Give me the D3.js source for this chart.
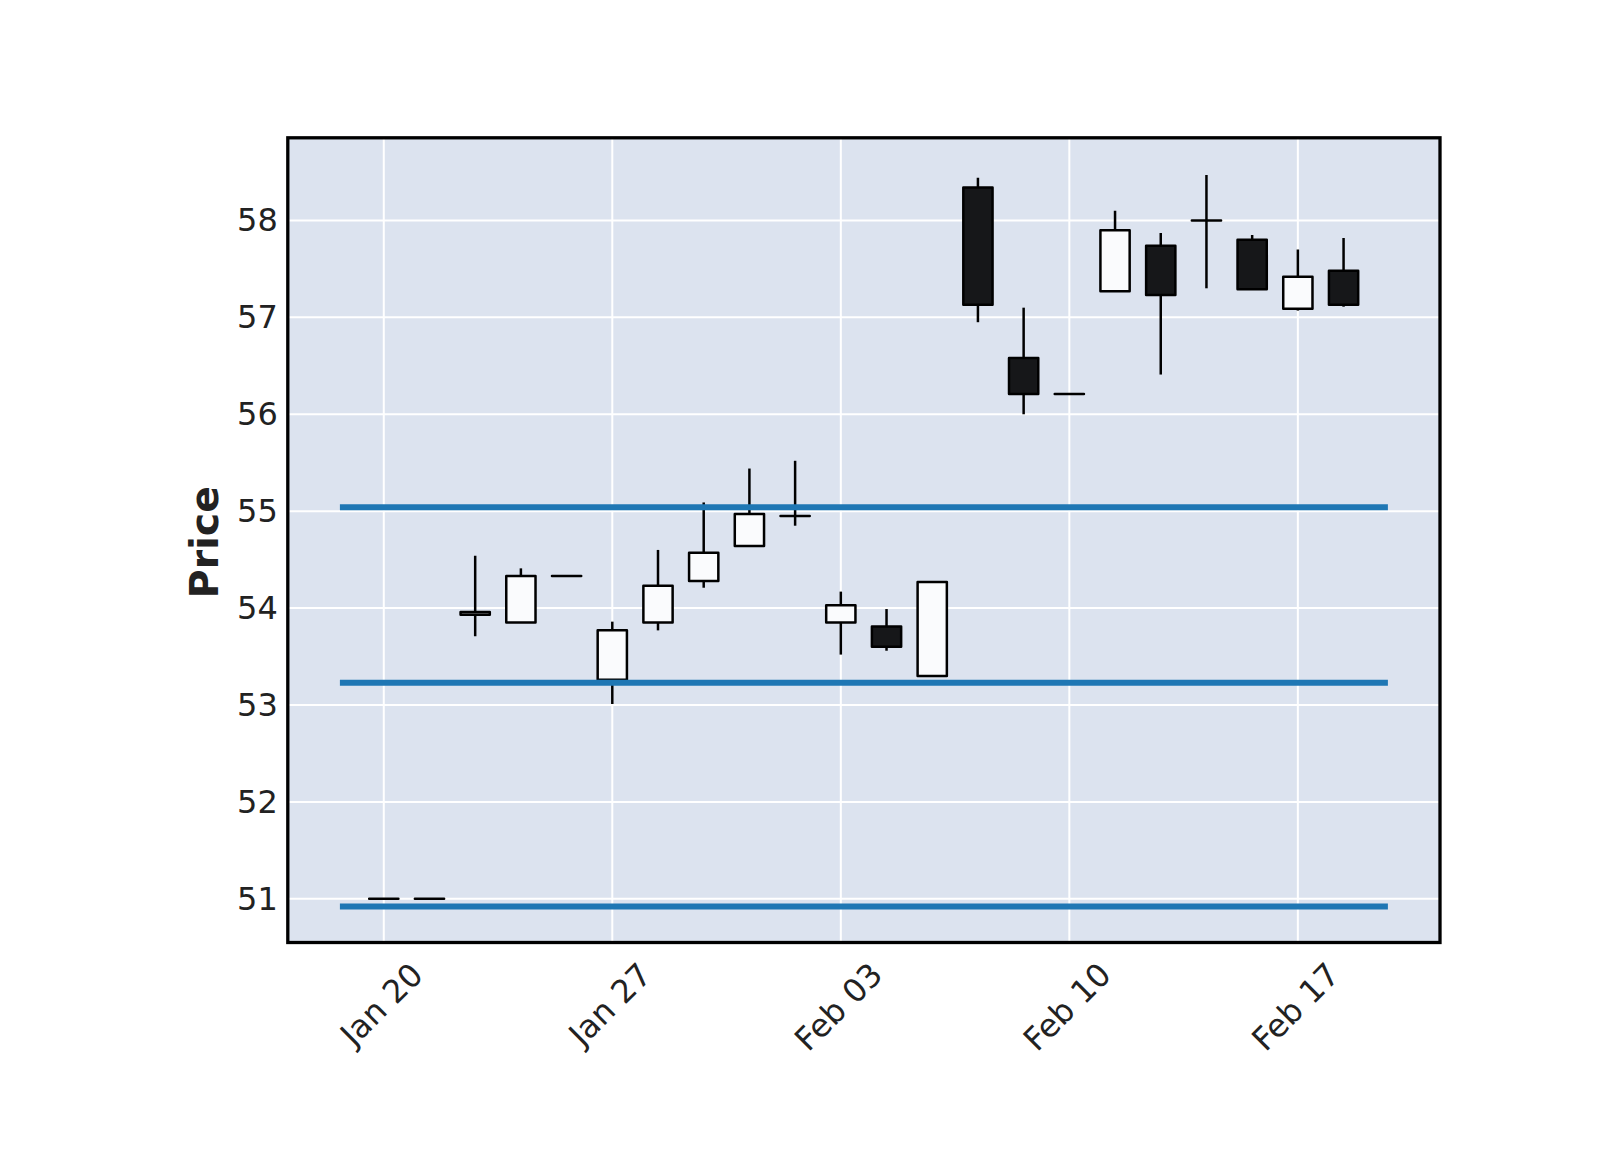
<!DOCTYPE html>
<html>
<head>
<meta charset="utf-8">
<script src="https://cdn.jsdelivr.net/npm/d3@7"></script>
<style>
  html, body { margin: 0; padding: 0; background: #ffffff; }
  svg { display: block; }
</style>
</head>
<body>
<svg id="chart" width="1600" height="1150"></svg>
<script>
// ---- data ----
const dates  = ["Jan 20","Jan 21","Jan 22","Jan 23","Jan 24","Jan 27","Jan 28","Jan 29","Jan 30","Jan 31",
                "Feb 03","Feb 04","Feb 05","Feb 06","Feb 07","Feb 10","Feb 11","Feb 12","Feb 13","Feb 14",
                "Feb 17","Feb 18"];
const opens  = [51.00, 51.00, 53.93, 53.85, 54.33, 53.26, 53.85, 54.28, 54.64, 54.95,
                53.85, 53.81, 53.30, 58.34, 56.58, 56.21, 57.27, 57.74, 58.00, 57.80,
                57.09, 57.48];
const highs  = [51.00, 51.00, 54.54, 54.41, 54.33, 53.86, 54.60, 55.09, 55.44, 55.52,
                54.17, 53.99, 54.27, 58.44, 57.10, 56.21, 58.10, 57.87, 58.47, 57.85,
                57.70, 57.82];
const lows   = [51.00, 51.00, 53.71, 53.85, 54.33, 53.01, 53.77, 54.21, 54.63, 54.85,
                53.52, 53.56, 53.30, 56.95, 56.00, 56.21, 57.27, 56.41, 57.30, 57.29,
                57.07, 57.11];
const closes = [51.00, 51.00, 53.96, 54.33, 54.33, 53.77, 54.23, 54.57, 54.97, 54.95,
                54.03, 53.60, 54.27, 57.13, 56.21, 56.21, 57.90, 57.23, 58.00, 57.29,
                57.42, 57.13];
const hlineValues = [55.04, 53.23, 50.92];
const xTickLabels = ["Jan 20", "Jan 27", "Feb 03", "Feb 10", "Feb 17"];
const yTickValues = [51, 52, 53, 54, 55, 56, 57, 58];
const yLabel = "Price";

// ---- layout ----
const plot = { left: 287.8, right: 1440, top: 137.8, bottom: 942.5 };
const xDomain = [-2.1, 23.11];
const yDomain = [50.549, 58.853];
const hlineSpan = [-0.96, 21.97];
const bodyWidth = 0.64;
const fontFamily = "'DejaVu Sans', sans-serif";
const tickFont = 32;
const lineW = 2.5;

const svg = d3.select("#chart");
const x = d3.scaleLinear().domain(xDomain).range([plot.left, plot.right]);
const y = d3.scaleLinear().domain(yDomain).range([plot.bottom, plot.top]);

const candles = dates.map((d, i) => ({ i, d, o: opens[i], h: highs[i], l: lows[i], c: closes[i] }));
const tickIdx = xTickLabels.map(t => dates.indexOf(t));

// background
svg.append("rect")
  .attr("x", plot.left).attr("y", plot.top)
  .attr("width", plot.right - plot.left).attr("height", plot.bottom - plot.top)
  .attr("fill", "#DCE3EF");

// clip
svg.append("clipPath").attr("id", "clip").append("rect")
  .attr("x", plot.left).attr("y", plot.top)
  .attr("width", plot.right - plot.left).attr("height", plot.bottom - plot.top);

const g = svg.append("g").attr("clip-path", "url(#clip)");

// grid
g.append("g").selectAll("line").data(yTickValues).join("line")
  .attr("x1", plot.left).attr("x2", plot.right)
  .attr("y1", d => y(d)).attr("y2", d => y(d))
  .attr("stroke", "#ffffff").attr("stroke-width", 2);
g.append("g").selectAll("line").data(tickIdx).join("line")
  .attr("x1", d => x(d)).attr("x2", d => x(d))
  .attr("y1", plot.top).attr("y2", plot.bottom)
  .attr("stroke", "#ffffff").attr("stroke-width", 2);

// wicks
g.append("g").selectAll("line").data(candles).join("line")
  .attr("x1", d => x(d.i)).attr("x2", d => x(d.i))
  .attr("y1", d => y(d.h)).attr("y2", d => y(d.l))
  .attr("stroke", "#000000").attr("stroke-width", lineW);

// bodies (paths so that zero-height doji bodies still draw their edge)
const bw = x(bodyWidth) - x(0);
g.append("g").selectAll("path").data(candles).join("path")
  .attr("d", d => {
    const x0 = x(d.i) - bw / 2, x1 = x(d.i) + bw / 2;
    const y0 = y(Math.max(d.o, d.c)), y1 = y(Math.min(d.o, d.c));
    return `M${x0},${y0}H${x1}V${y1}H${x0}Z`;
  })
  .attr("fill", d => d.c >= d.o ? "#fafbfd" : "#161719")
  .attr("stroke", "#000000").attr("stroke-width", lineW)
  .attr("stroke-linejoin", "round");

// horizontal lines
g.append("g").selectAll("line").data(hlineValues).join("line")
  .attr("x1", x(hlineSpan[0])).attr("x2", x(hlineSpan[1]))
  .attr("y1", d => y(d)).attr("y2", d => y(d))
  .attr("stroke", "#1f77b4").attr("stroke-width", 6);

// frame
svg.append("rect")
  .attr("x", plot.left).attr("y", plot.top)
  .attr("width", plot.right - plot.left).attr("height", plot.bottom - plot.top)
  .attr("fill", "none").attr("stroke", "#000000").attr("stroke-width", 3.3);

// y axis labels
const yAxis = d3.axisLeft(y).tickValues(yTickValues).tickSize(0).tickPadding(10).tickFormat(d3.format("d"));
const yAxisG = svg.append("g").attr("transform", `translate(${plot.left},0)`).call(yAxis);
yAxisG.select(".domain").remove();
yAxisG.selectAll("text")
  .attr("font-family", fontFamily).attr("font-size", tickFont).attr("fill", "#222222");

// x axis labels (rotated 45, bbox centered under tick)
const xAxis = d3.axisBottom(x).tickValues(tickIdx).tickSize(0).tickFormat((d, k) => xTickLabels[k]);
const xAxisG = svg.append("g").attr("transform", `translate(0,${plot.bottom})`).call(xAxis);
xAxisG.select(".domain").remove();
const topPad = 15;
xAxisG.selectAll("text")
  .attr("font-family", fontFamily).attr("font-size", tickFont).attr("fill", "#222222")
  .attr("text-anchor", "middle")
  .attr("dy", null)
  .attr("dominant-baseline", "central")
  .each(function () {
    const t = d3.select(this);
    const w = this.getComputedTextLength();
    const h = tickFont * 0.95;
    const half = (w + h) / (2 * Math.SQRT2);
    t.attr("y", 0).attr("x", -1)
     .attr("transform", `translate(-2,${topPad + half}) rotate(-45)`);
  });

// y label
svg.append("text")
  .attr("transform", `translate(204,${(plot.top + plot.bottom) / 2 + 2}) rotate(-90)`)
  .attr("text-anchor", "middle").attr("dominant-baseline", "central")
  .attr("font-family", fontFamily).attr("font-size", 39.5).attr("font-weight", "bold")
  .attr("fill", "#222222")
  .text(yLabel);
</script>
</body>
</html>
